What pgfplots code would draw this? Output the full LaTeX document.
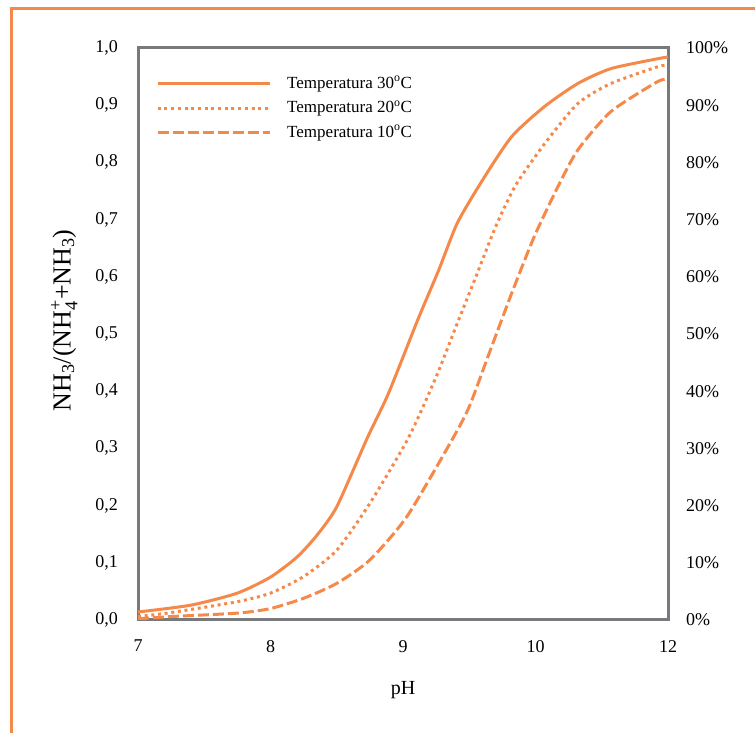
\documentclass[border=0pt]{standalone}
\usepackage{fontspec}
\setmainfont{Liberation Serif}
\usepackage{amsmath}
\usepackage{pgfplots}
\pgfplotsset{compat=1.18}

\definecolor{naranja}{RGB}{245,137,74}
\definecolor{gris}{RGB}{120,121,124}

\begin{document}
\begin{tikzpicture}[x=1pt,y=1pt]
  \path[use as bounding box] (0,0) rectangle (755,733);
  % marco naranja
  \draw[naranja, line width=3pt] (11.5,0) -- (11.5,724.5) -- (755,724.5);

  \begin{axis}[
    at={(138pt,113pt)}, anchor=south west,
    scale only axis, width=530pt, height=572pt,
    xmin=7, xmax=11, ymin=0, ymax=1,
    xtick={7,8,9,10,11},
    xticklabels={7,8,9,10,12},
    ytick={0,0.1,...,1.01},
    axis line style={gris, line width=3pt},
    major tick length=0pt,
    /pgf/number format/.cd, fixed, fixed zerofill, precision=1, use comma, assume math mode=true,
    /pgfplots/.cd,
    ticklabel style={font=\fontsize{18}{20}\selectfont, text=black},
    yticklabel style={inner sep=0pt, anchor=east, xshift=-20pt},
    xticklabel style={inner sep=0pt, anchor=north, yshift=-20pt},
    xlabel={pH},
    ylabel={NH\textsubscript{3}/(NH$_{\text{4}}^{\text{+}}$+NH\textsubscript{3})},
    xlabel style={font=\fontsize{20}{22}\selectfont, text=black,
      at={(axis description cs:0.5,-0.122)}, anchor=center},
    ylabel style={font=\fontsize{26}{28}\selectfont, text=black,
      at={(axis description cs:-0.139,0.524)}, anchor=center},
    legend cell align=left,
    legend image code/.code={\draw[#1] (0pt,0pt) -- (112pt,0pt);},
    legend style={draw=none, fill=none, inner sep=0pt,
      at={(axis description cs:0.034,0.951)}, anchor=north west,
      font=\fontsize{17}{20}\selectfont, text=black,
      column sep=2pt, row sep=9pt,
      nodes={inner sep=0pt, text height=12pt, text depth=3.5pt}},
    every axis plot/.append style={naranja, line width=3pt, smooth, tension=0.4},
  ]
    \addplot[solid] coordinates {
      (7.0,0.014) (7.4,0.026) (7.75,0.047) (8.0,0.075) (8.2,0.110)
      (8.35,0.148) (8.5,0.198) (8.73,0.318) (8.89,0.396) (9.11,0.524)
      (9.27,0.612) (9.41,0.694) (9.6,0.769) (9.82,0.845) (10.07,0.898)
      (10.32,0.938) (10.57,0.964) (10.94,0.982) (11.0,0.984)
    };
    \addlegendentry{\hspace{14pt}Temperatura 30\textsuperscript{o}C}
    \addplot[dash pattern=on 3pt off 3.7pt] coordinates {
      (7.0,0.006) (7.25,0.013) (7.75,0.032) (8.0,0.047) (8.25,0.076)
      (8.5,0.122) (8.75,0.204) (9.04,0.318) (9.25,0.425) (9.40,0.513)
      (9.55,0.600) (9.70,0.688) (9.85,0.760) (10.07,0.833) (10.32,0.903)
      (10.57,0.938) (10.92,0.967) (11.0,0.970)
    };
    \addlegendentry{\hspace{14pt}Temperatura 20\textsuperscript{o}C}
    \addplot[dash pattern=on 11pt off 4pt] coordinates {
      (7.0,0.002) (7.25,0.006) (7.75,0.012) (8.0,0.020) (8.25,0.038)
      (8.5,0.064) (8.75,0.105) (9.03,0.181) (9.37,0.315) (9.50,0.373)
      (9.65,0.466) (9.82,0.571) (9.99,0.670) (10.17,0.758) (10.32,0.822)
      (10.57,0.889) (10.92,0.941) (11.0,0.945)
    };
    \addlegendentry{\hspace{14pt}Temperatura 10\textsuperscript{o}C}
  \end{axis}

  \begin{axis}[
    at={(138pt,113pt)}, anchor=south west,
    scale only axis, width=530pt, height=572pt,
    xmin=7, xmax=11, ymin=0, ymax=100,
    ytick={0,10,...,100},
    axis y line*=right, axis x line=none,
    y axis line style={draw=none},
    major tick length=0pt,
    /pgf/number format/assume math mode=true,
    ticklabel style={font=\fontsize{18}{20}\selectfont, text=black},
    yticklabel style={inner sep=0pt, anchor=west, xshift=18pt},
    yticklabel={\pgfmathprintnumber{\tick}\%},
  ]
  \end{axis}
\end{tikzpicture}
\end{document}
